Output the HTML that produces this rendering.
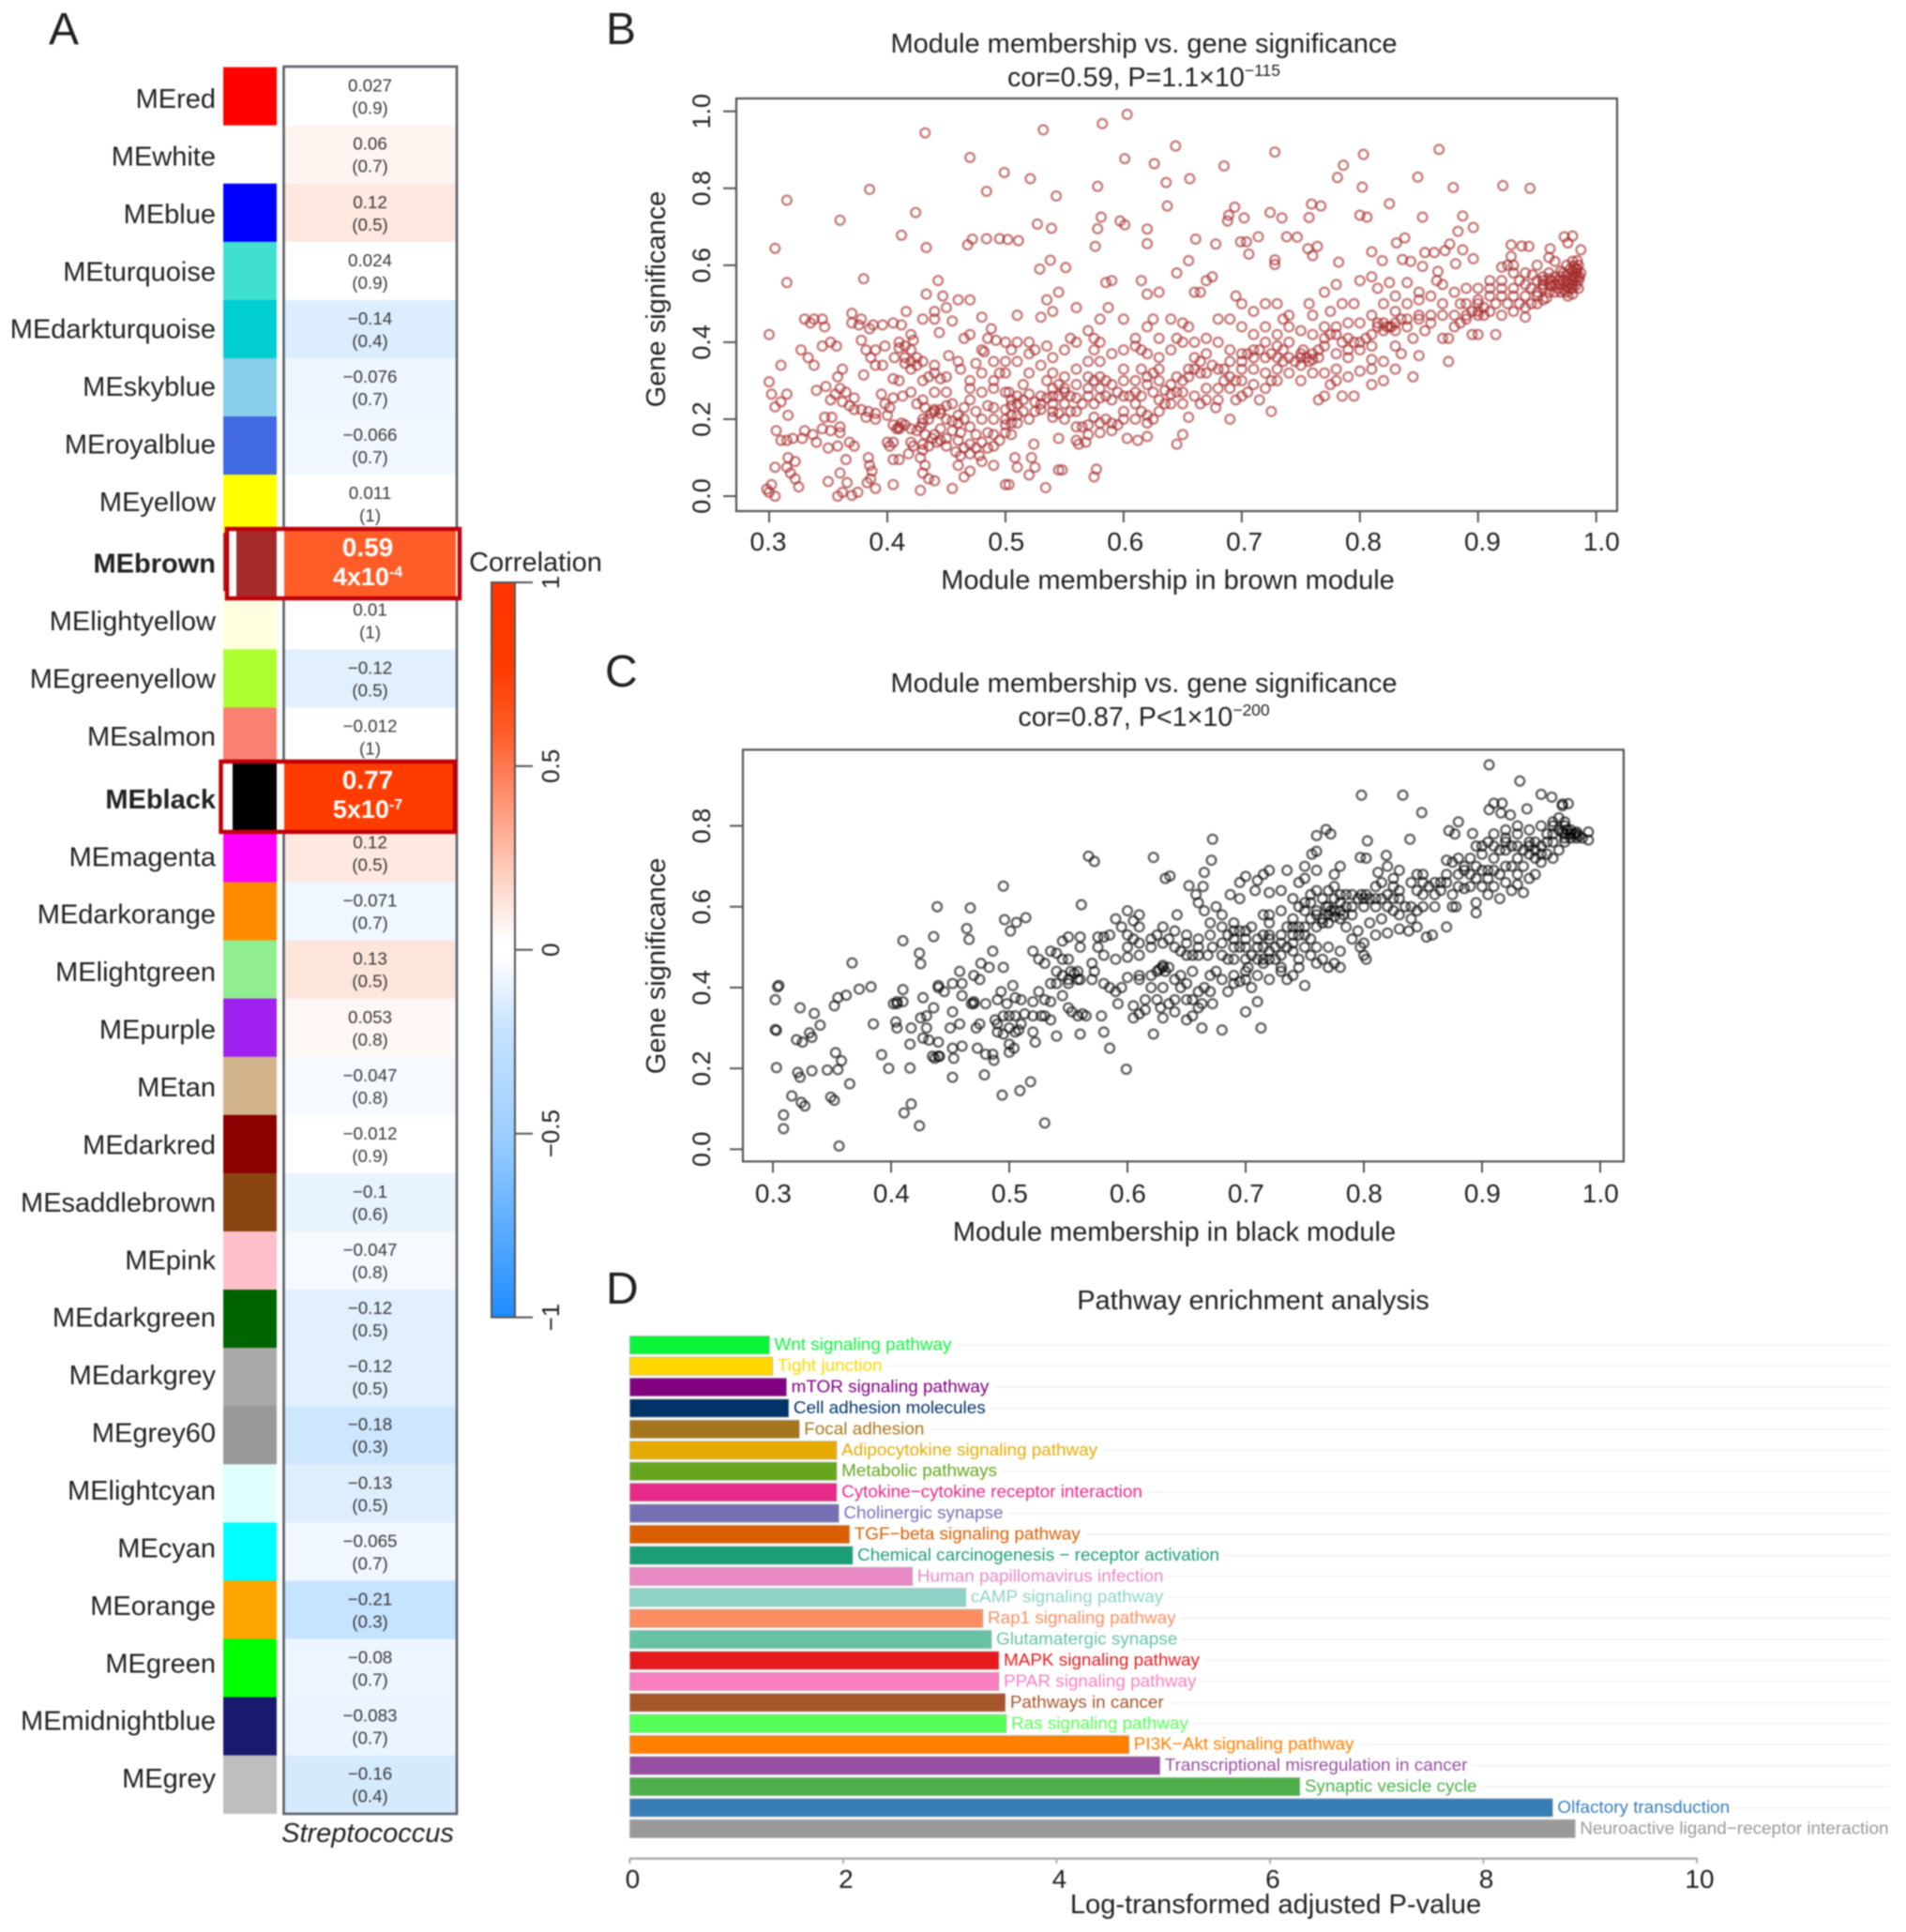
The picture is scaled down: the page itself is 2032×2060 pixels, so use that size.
<!DOCTYPE html>
<html lang="en">
<head>
<meta charset="utf-8">
<title>Module-trait correlation, module membership and pathway enrichment</title>
<style>
html,body{margin:0;padding:0;background:#fff;}
svg{display:block;filter:blur(.7px);font-family:"Liberation Sans",Arial,sans-serif;}
text{fill:#222;}
</style>
</head>
<body>
<svg id="figure" xmlns="http://www.w3.org/2000/svg" width="2032" height="2060" viewBox="0 0 2032 2060">
  <defs><linearGradient id="corrGradient" x1="0" y1="1" x2="0" y2="0"></linearGradient></defs>
  <rect x="0" y="0" width="2032" height="2060" fill="#fff"/>

  <text x="52" y="47" font-size="48">A</text>
  <text x="646" y="47" font-size="48">B</text>
  <text x="645" y="732" font-size="48">C</text>
  <text x="646" y="1390" font-size="48">D</text>

  <g id="panelA"></g>
  <text x="392" y="1964" font-size="29" font-style="italic" text-anchor="middle">Streptococcus</text>
  <text x="571" y="609" font-size="29" text-anchor="middle">Correlation</text>

  <text x="1219.5" y="56" font-size="29" text-anchor="middle">Module membership vs. gene significance</text>
  <text x="1219.5" y="92" font-size="28.7" text-anchor="middle">cor=0.59, P=1.1×10<tspan dy="-11" font-size="17.5">−115</tspan></text>
  <text x="1245" y="628" font-size="29" text-anchor="middle">Module membership in brown module</text>
  <text x="709" y="319" font-size="29" text-anchor="middle" transform="rotate(-90 709 319)">Gene significance</text>
  <g id="panelB"></g>

  <text x="1219.5" y="738" font-size="29" text-anchor="middle">Module membership vs. gene significance</text>
  <text x="1219.5" y="774" font-size="28.7" text-anchor="middle">cor=0.87, P&lt;1×10<tspan dy="-11" font-size="17.5">−200</tspan></text>
  <text x="1252" y="1323" font-size="29" text-anchor="middle">Module membership in black module</text>
  <text x="709" y="1030" font-size="29" text-anchor="middle" transform="rotate(-90 709 1030)">Gene significance</text>
  <g id="panelC"></g>

  <text x="1336" y="1396" font-size="29" text-anchor="middle">Pathway enrichment analysis</text>
  <text x="1360" y="2040" font-size="29.1" text-anchor="middle">Log-transformed adjusted P-value</text>
  <g id="panelD"></g>
</svg>

<script>
const moduleNames = ["MEred","MEwhite","MEblue","MEturquoise","MEdarkturquoise","MEskyblue","MEroyalblue","MEyellow","MEbrown","MElightyellow","MEgreenyellow","MEsalmon","MEblack","MEmagenta","MEdarkorange","MElightgreen","MEpurple","MEtan","MEdarkred","MEsaddlebrown","MEpink","MEdarkgreen","MEdarkgrey","MEgrey60","MElightcyan","MEcyan","MEorange","MEgreen","MEmidnightblue","MEgrey"];
const moduleColors = ["#ff0000","#ffffff","#0000ff","#40e0d0","#00ced1","#87ceeb","#4169e1","#ffff00","#a52a2a","#ffffe0","#adff2f","#fa8072","#000000","#ff00ff","#ff8c00","#90ee90","#a020f0","#d2b48c","#8b0000","#8b4513","#ffc0cb","#006400","#a9a9a9","#999999","#e0ffff","#00ffff","#ffa500","#00ff00","#191970","#bebebe"];
const correlations = [0.027,0.06,0.12,0.024,-0.14,-0.076,-0.066,0.011,0.59,0.01,-0.12,-0.012,0.77,0.12,-0.071,0.13,0.053,-0.047,-0.012,-0.1,-0.047,-0.12,-0.12,-0.18,-0.13,-0.065,-0.21,-0.08,-0.083,-0.16];
const pValues = ["0.9","0.7","0.5","0.9","0.4","0.7","0.7","1","4x10^-4","1","0.5","1","5x10^-7","0.5","0.7","0.5","0.8","0.8","0.9","0.6","0.8","0.5","0.5","0.3","0.5","0.7","0.3","0.7","0.7","0.4"];
const colorbarTicks = [1,0.5,0,-0.5,-1];
const scaleValues = [-1,-0.5,-0.21,-0.14,-0.076,-0.047,-0.012,0.03,0.06,0.12,0.5,0.59,0.77,1];
const scaleColors = ["#1e8cff","#9ccfff","#c6e3ff","#dcedfd","#eef6ff","#f6f9ff","#ffffff","#ffffff","#fef5f1","#fee8df","#ff7850","#ff5c28","#ff3c00","#ff3300"];

const pathwayNames = ["Wnt signaling pathway","Tight junction","mTOR signaling pathway","Cell adhesion molecules","Focal adhesion","Adipocytokine signaling pathway","Metabolic pathways","Cytokine−cytokine receptor interaction","Cholinergic synapse","TGF−beta signaling pathway","Chemical carcinogenesis − receptor activation","Human papillomavirus infection","cAMP signaling pathway","Rap1 signaling pathway","Glutamatergic synapse","MAPK signaling pathway","PPAR signaling pathway","Pathways in cancer","Ras signaling pathway","PI3K−Akt signaling pathway","Transcriptional misregulation in cancer","Synaptic vesicle cycle","Olfactory transduction","Neuroactive ligand−receptor interaction"];
const pathwayValues = [1.31,1.34,1.47,1.49,1.59,1.94,1.94,1.94,1.96,2.06,2.09,2.65,3.15,3.31,3.39,3.46,3.46,3.52,3.53,4.68,4.97,6.28,8.65,8.86];
const pathwayColors = ["#0af53a","#ffd700","#800080","#003366","#a6761d","#e6ab02","#66a61e","#e7298a","#7570b3","#d95f02","#1b9e77","#e78ac3","#8dd3c7","#fc8d62","#66c2a5","#e41a1c","#f97fbf","#a65628","#55ff55","#ff7f00","#984ea3","#4daf4a","#377eb8","#999999"];
const pathwayTicks = [0,2,4,6,8,10];

const scatterXTicks = [0.3,0.4,0.5,0.6,0.7,0.8,0.9,1.0];
const brownYTicks = [0,0.2,0.4,0.6,0.8,1.0];
const blackYTicks = [0,0.2,0.4,0.6,0.8];

const brownPoints = [[.432,.944],[.532,.952],[.582,.968],[.603,.992],[.644,.91],[.728,.894],[.867,.901],[.803,.888],[.47,.88],[.601,.877],[.626,.864],[.685,.858],[.786,.86],[.499,.841],[.849,.829],[.521,.825],[.656,.825],[.636,.815],[.781,.828],[.802,.803],[.879,.802],[.921,.807],[.944,.8],[.578,.805],[.385,.797],[.484,.792],[.543,.78],[.315,.769],[.637,.754],[.825,.76],[.759,.759],[.767,.754],[.694,.751],[.724,.737],[.689,.73],[.424,.737],[.887,.728],[.853,.725],[.8,.73],[.806,.725],[.734,.723],[.702,.723],[.581,.725],[.36,.717],[.597,.715],[.527,.707],[.601,.705],[.757,.724],[.688,.715],[.62,.694],[.578,.695],[.539,.696],[.896,.698],[.883,.688],[.412,.678],[.472,.668],[.484,.669],[.495,.669],[.502,.667],[.511,.664],[.468,.653],[.661,.668],[.714,.674],[.738,.674],[.747,.673],[.699,.661],[.704,.661],[.678,.655],[.62,.656],[.576,.649],[.764,.649],[.756,.643],[.76,.625],[.706,.629],[.305,.644],[.433,.646],[.831,.658],[.838,.671],[.876,.655],[.973,.674],[.98,.676],[.976,.658],[.987,.64],[.961,.643],[.928,.653],[.937,.65],[.943,.649],[.81,.635],[.855,.633],[.863,.633],[.872,.638],[.887,.64],[.728,.614],[.728,.602],[.538,.613],[.655,.612],[.782,.608],[.819,.612],[.836,.615],[.843,.61],[.896,.617],[.928,.623],[.529,.59],[.551,.594],[.853,.597],[.866,.584],[.881,.604],
[.30,.42],[.3,.297],[.302,.265],[.305,.232],[.306,.17],[.31,.145],[.315,.145],[.32,.15],[.328,.15],[.33,.17],[.337,.16],[.34,.14],[.305,.075],[.302,.03],[.298,.018],[.3,.01],[.305,.0],[.316,.1],[.322,.09],[.315,.075],[.318,.06],[.322,.045],[.325,.024],[.315,.265],[.31,.245],[.316,.21],[.31,.34],[.327,.38],[.333,.36],[.338,.34],[.345,.39],[.352,.4],[.357,.39],[.33,.46],[.345,.46],[.347,.44],[.37,.475],[.378,.46],[.385,.435],[.34,.275],[.348,.285],[.358,.31],[.362,.33],[.347,.205],[.353,.205],[.36,.18],[.35,.125],[.358,.13],[.35,.038],[.358,.0],[.36,.06],[.383,.035],[.315,.555],[.38,.565],
[.352,.25],[.356,.265],[.36,.28],[.365,.27],[.362,.245],[.368,.235],[.372,.225],[.378,.225],[.384,.22],[.39,.215],[.382,.205],[.372,.255],[.38,.315],[.378,.405],[.382,.38],[.386,.36],[.39,.34],[.396,.34],[.398,.39],[.376,.445],[.388,.445],[.396,.445],[.405,.45],[.412,.445],[.416,.48],[.384,.1],[.385,.08],[.387,.065],[.386,.045],[.39,.02],[.405,.03],[.366,.035],[.362,.01],[.37,.002],[.375,.01],[.372,.13],[.368,.14],[.365,.095],[.345,.175],[.352,.17],[.36,.165],[.405,.14],[.41,.18],[.415,.185],[.408,.175],[.405,.095],[.41,.095],[.398,.24],[.402,.23],[.395,.265],[.405,.255],[.41,.3],[.405,.305],[.413,.26],[.406,.36],[.415,.345],[.42,.35],[.425,.34],[.42,.38],[.41,.385],[.415,.39],[.422,.405],[.425,.36],[.43,.35],[.43,.46],[.44,.46],[.444,.425],[.443,.56],[.433,.525],[.447,.52],[.44,.48],[.455,.455],[.43,.3],[.435,.31],[.44,.32],[.445,.305],[.452,.365],[.44,.27],[.43,.25],[.425,.24],[.432,.23],[.437,.215],[.44,.22],[.445,.225],[.45,.2],[.43,.2],[.428,.18],[.42,.175],[.432,.16],[.438,.15],[.43,.135],[.422,.13],[.418,.11],[.428,.1],[.432,.08],[.43,.06],[.435,.045],[.44,.04],[.428,.015],[.455,.02],[.46,.08],[.47,.065],[.465,.05],[.442,.14],[.45,.13],[.455,.17],[.46,.145],[.465,.125],[.47,.11],[.48,.09],[.49,.08],[.48,.14],[.485,.125],[.49,.13],[.495,.145],[.5,.165],[.505,.19],[.5,.03],[.503,.03],[.51,.075],[.508,.1],[.52,.055],[.522,.1],[.525,.075],[.524,.135],[.534,.022],[.545,.068],[.548,.068],[.545,.15],[.56,.145],[.562,.135],[.568,.14],[.575,.05],[.577,.07],[.46,.21],[.465,.23],[.47,.25],[.455,.24],[.45,.235],[.475,.22],[.485,.235],[.49,.28],[.48,.27],[.49,.3],[.5,.27],[.5,.32],[.505,.25],[.51,.24],[.515,.29],[.52,.32],[.505,.21],[.515,.22],[.525,.245],[.53,.225],[.535,.3],[.54,.28],[.545,.26],[.55,.24],[.545,.215],[.54,.205],[.555,.22],[.56,.255],[.56,.29],[.57,.26],[.575,.24],[.58,.255],[.565,.18],[.57,.185],[.575,.205],[.58,.165],[.585,.2],[.59,.19],[.595,.185],[.6,.22],[.605,.26],[.61,.27],[.615,.22],[.62,.21],[.625,.2],[.603,.15],[.612,.145],[.62,.155],[.645,.135],[.65,.16],[.655,.205],[.665,.24],[.678,.23],[.69,.2],[.65,.27],[.64,.265],[.635,.275],[.63,.25],[.63,.3],[.62,.31],[.615,.33],[.61,.3],[.59,.29],[.585,.3],[.58,.31],[.57,.35],[.575,.38],[.56,.4],[.555,.41],[.55,.38],[.54,.36],[.535,.39],[.525,.38],[.52,.4],[.51,.4],[.505,.38],[.5,.35],[.495,.32],[.485,.41],[.48,.38],[.47,.42],[.465,.41],[.46,.35],[.462,.33],[.45,.49],[.46,.51],[.47,.51],[.48,.465],[.488,.435],[.492,.405],[.482,.375],[.475,.345],[.51,.47],[.53,.465],[.535,.51],[.54,.48],[.545,.53],[.56,.49],[.57,.43],[.575,.41],[.58,.46],[.587,.49],[.58,.4],[.6,.46],[.61,.41],[.615,.38],[.62,.44],[.625,.46],[.63,.36],[.64,.38],[.645,.41],[.65,.45],[.655,.44],[.66,.4],[.67,.37],[.675,.34],[.665,.32],[.655,.33],[.645,.31],[.685,.33],[.69,.35],[.7,.37],[.71,.38],[.72,.4],[.73,.39],[.74,.4],[.75,.37],[.755,.36],[.76,.37],[.76,.42],[.765,.36],[.75,.34],[.745,.35],[.735,.35],[.73,.33],[.725,.3],[.72,.32],[.71,.33],[.7,.3],[.695,.25],[.705,.27],[.715,.25],[.725,.22],[.69,.28],[.68,.25],[.67,.28],[.765,.25],[.77,.26],[.775,.29],[.785,.26],[.795,.26],[.81,.29],[.82,.3],[.78,.33],[.79,.36],[.8,.325],[.81,.355],[.8,.4],[.79,.41],[.78,.44],[.77,.44],[.775,.48],[.81,.42],[.815,.44],[.82,.45],[.825,.44],[.83,.43],[.835,.46],[.84,.44],[.845,.31],[.85,.365],[.875,.35],[.83,.39],[.835,.37],[.845,.41],[.855,.43],[.86,.45],[.87,.47],[.875,.41],[.885,.45],[.89,.46],[.895,.42],[.9,.42],[.9,.48],[.905,.49],[.915,.42],[.92,.47],[.93,.48],[.94,.465],[.94,.49],[.95,.5],[.955,.51],[.96,.53],[.93,.52],[.92,.52],[.91,.52],[.9,.51],[.89,.5],[.885,.5],[.88,.53],[.87,.55],[.865,.56],[.85,.53],[.85,.51],[.84,.555],[.83,.52],[.825,.555],[.815,.54],[.81,.57],[.8,.56],[.795,.5],[.785,.5],[.77,.53],[.78,.55],[.71,.48],[.72,.5],[.7,.5],[.695,.52],[.68,.46],[.665,.53],[.66,.53],[.645,.58],[.63,.53],[.62,.525],[.615,.56],[.59,.56],[.585,.555],[.67,.56],[.675,.57],[.69,.46],[.73,.5],[.735,.46],[.74,.44],[.757,.5],
[.955,.54],[.96,.55],[.962,.56],[.965,.53],[.968,.54],[.97,.55],[.972,.56],[.975,.545],[.978,.54],[.98,.56],[.982,.57],[.984,.59],[.985,.6],[.983,.58],[.98,.585],[.975,.575],[.97,.53],[.985,.56],[.985,.54],[.98,.525],[.987,.58],[.96,.58],[.955,.57],[.95,.56],[.945,.54],[.94,.55],[.935,.56],[.93,.58],[.925,.6],[.92,.595],[.975,.6],[.965,.61],[.96,.62],[.98,.61],[.97,.585],[.958,.515],[.95,.53],[.946,.575],[.962,.545],[.973,.535],[.977,.553],[.983,.548],[.986,.57],[.981,.598],[.984,.612],
[.41,.175],[.412,.19],[.405,.185],[.4,.14],[.402,.13],[.44,.225],[.445,.215],[.435,.2],[.43,.19],[.425,.17],[.435,.13],[.44,.16],[.445,.145],[.43,.12],[.42,.14],[.445,.175],[.45,.15],[.455,.195],[.46,.19],[.462,.165],[.465,.2],[.47,.18],[.475,.16],[.475,.125],[.458,.115],[.462,.105],[.47,.135],[.478,.105],[.485,.165],[.49,.16],[.5,.2],[.5,.185],[.505,.16],[.5,.225],[.505,.235],[.51,.21],[.515,.25],[.503,.27],[.51,.26],[.52,.265],[.525,.22],[.53,.24],[.535,.255],[.54,.24],[.54,.26],[.545,.29],[.55,.27],[.55,.28],[.555,.26],[.56,.22],[.565,.24],[.57,.28],[.575,.3],[.58,.28],[.585,.26],[.59,.25],[.595,.27],[.6,.3],[.6,.26],[.61,.24],[.615,.26],[.62,.29],[.625,.27],[.625,.32],[.63,.33],[.635,.24],[.64,.29],[.645,.27],[.65,.3],[.655,.31],[.66,.33],[.665,.35],[.67,.32],[.68,.33],[.685,.3],[.695,.3],[.7,.33],[.7,.35],[.705,.37],[.71,.36],[.715,.38],[.72,.36],[.725,.37],[.73,.36],[.735,.38],[.74,.36],[.75,.36],[.752,.38],[.757,.35],[.76,.355],[.765,.38],[.77,.41],[.775,.42],[.78,.42],[.785,.4],[.79,.38],[.795,.4],[.8,.38],[.805,.41],[.81,.39],[.815,.45],[.82,.43],[.823,.44],[.827,.44],[.83,.45],[.84,.46],[.85,.46],[.86,.47],[.87,.41],[.88,.44],[.89,.47],[.895,.48],[.9,.47],[.9,.5],[.905,.47],[.91,.48],[.915,.5],[.925,.5],[.935,.5],[.94,.52],[.945,.5],[.95,.52],[.955,.55],[.93,.54],[.92,.56],[.91,.54],[.98,.55],[.975,.56],[.97,.57],[.965,.57],[.96,.565],[.955,.56],[.965,.55],[.975,.53],[.98,.57],[.983,.59],[.984,.57],[.978,.59],[.972,.58],[.968,.56],[.98,.54],[.976,.52],[.335,.45],[.338,.46],[.37,.45],[.39,.38],[.41,.4],[.415,.36],[.42,.33],[.42,.42],[.44,.34],[.45,.31],[.47,.3],[.48,.32],[.49,.35],[.5,.4],[.51,.35],[.52,.37],[.53,.34],[.54,.32],[.55,.31],[.56,.33],[.57,.31],[.58,.35],[.59,.37],[.6,.38],[.61,.39],[.62,.37],[.63,.41],[.64,.46],[.65,.4],[.66,.36],[.67,.41],[.68,.4],[.69,.38],[.7,.44],[.71,.42],[.72,.44],[.73,.42],[.74,.47],[.75,.43],[.76,.47],[.77,.39],[.78,.37],[.79,.45],[.8,.45],[.81,.47],[.82,.5],[.83,.48],[.84,.5],[.85,.47],[.86,.52],[.87,.5],[.88,.47],[.89,.54],[.9,.54],[.91,.56],[.92,.54],[.93,.6],[.94,.58],[.95,.6],[.4,.21],[.39,.2],[.42,.27],[.45,.27],[.47,.28],[.48,.2],[.49,.2],[.49,.23],[.51,.19],[.52,.2],[.53,.26],[.54,.22],[.55,.2],[.56,.18],[.57,.16],[.58,.19],[.59,.17],[.6,.2],[.6,.33],[.61,.2],[.62,.19],[.63,.22],[.64,.24],[.65,.24],[.66,.26],[.67,.25],[.68,.28],[.69,.31],[.7,.26],[.71,.29],[.72,.28],[.73,.3],[.74,.32],[.75,.3],[.76,.32],[.77,.32],[.78,.3],[.79,.31],[.81,.33],[.82,.35],[.83,.33]];

const blackPoints = [[.906,.951],[.932,.911],[.798,.876],[.833,.876],[.95,.878],[.959,.871],[.968,.854],[.849,.833],[.906,.84],[.91,.856],[.917,.856],[.916,.832],[.938,.842],[.924,.827],[.88,.81],[.872,.788],[.877,.78],[.892,.781],[.76,.776],[.768,.791],[.772,.78],[.672,.767],[.803,.763],[.839,.767],[.567,.725],[.572,.712],[.622,.722],[.671,.715],[.797,.722],[.802,.72],[.819,.727],[.76,.737],[.756,.73],[.632,.67],[.636,.676],[.665,.685],[.652,.652],[.664,.65],[.495,.651],[.561,.605],[.439,.6],[.467,.597],[.514,.573],[.496,.568],[.506,.561],[.501,.54],[.464,.546],[.466,.519],[.41,.516],[.436,.526],[.424,.485],[.425,.459],[.367,.461],[.383,.402],[.373,.396],[.362,.381],[.355,.375],[.352,.355],[.304,.402],[.305,.405],[.302,.37],[.323,.35],[.335,.336],[.302,.296],[.303,.294],[.32,.271],[.331,.288],[.325,.265],[.333,.277],[.34,.307],[.303,.202],[.353,.239],[.358,.219],[.355,.197],[.346,.196],[.333,.194],[.321,.19],[.323,.178],[.365,.162],[.316,.132],[.349,.129],[.352,.121],[.324,.116],[.327,.107],[.309,.085],[.309,.051],[.356,.008],[.53,.065],[.424,.058],[.417,.112],[.411,.09],[.494,.134],[.509,.145],[.518,.167],[.479,.184],[.452,.178],[.599,.198],[.416,.201],[.398,.2],[.392,.234],
[.405,.36],[.41,.365],[.402,.36],[.41,.395],[.404,.315],[.405,.3],[.385,.31],[.416,.26],[.417,.3],[.425,.325],[.43,.3],[.43,.33],[.427,.275],[.432,.27],[.435,.23],[.44,.265],[.441,.23],[.437,.225],[.427,.375],[.436,.35],[.44,.4],[.445,.39],[.45,.3],[.452,.34],[.452,.25],[.453,.225],[.458,.31],[.46,.255],[.452,.41],[.458,.44],[.46,.41],[.47,.43],[.475,.42],[.47,.365],[.468,.36],[.475,.31],[.472,.3],[.473,.25],[.48,.235],[.487,.22],[.486,.235],[.488,.32],[.49,.37],[.49,.29],[.493,.39],[.495,.285],[.498,.36],[.5,.33],[.5,.26],[.5,.24],[.504,.25],[.503,.405],[.505,.375],[.505,.33],[.508,.295],[.51,.37],[.513,.335],[.52,.29],[.522,.265],[.52,.365],[.527,.33],[.53,.33],[.535,.32],[.54,.28],[.525,.39],[.535,.365],[.535,.41],[.54,.41],[.545,.38],[.55,.35],[.553,.34],[.558,.33],[.562,.335],[.565,.33],[.56,.285],[.578,.33],[.58,.29],[.585,.25],[.545,.43],[.55,.47],[.555,.435],[.558,.44],[.56,.5],[.545,.515],[.56,.525],[.55,.525],[.476,.46],[.483,.45],[.486,.49],[.495,.45],[.52,.49],[.525,.47],[.53,.46],[.535,.49],[.54,.485],[.545,.47],[.57,.46],[.572,.44],[.575,.525],[.58,.41],[.585,.4],[.59,.39],[.592,.36],[.595,.4],[.6,.475],[.6,.425],[.605,.355],[.605,.325],[.61,.335],[.615,.345],[.615,.37],[.61,.43],[.62,.43],[.625,.44],[.63,.45],[.635,.45],[.64,.42],[.645,.43],[.63,.4],[.625,.37],[.628,.35],[.63,.325],[.635,.36],[.64,.34],[.65,.32],[.655,.33],[.655,.37],[.66,.39],[.663,.36],[.672,.36],[.663,.3],[.622,.285],[.68,.295],[.713,.3],[.70,.34],[.705,.4],[.71,.365],[.685,.39],[.69,.43],[.695,.415],[.7,.42],[.702,.45],[.67,.43],[.665,.4],[.675,.44],[.68,.48],[.685,.47],[.69,.5],[.695,.54],[.7,.52],[.705,.48],[.71,.47],[.715,.46],[.72,.49],[.725,.5],[.73,.45],[.735,.42],[.74,.43],[.745,.45],[.75,.405],[.755,.48],[.76,.5],[.765,.47],[.77,.45],[.78,.45],[.775,.46],[.745,.47],[.735,.5],[.73,.51],[.74,.53],[.75,.55],[.755,.52],[.76,.55],[.76,.59],[.765,.56],[.77,.58],[.775,.575],[.78,.57],[.77,.6],[.765,.62],[.775,.62],[.785,.6],[.79,.63],[.78,.63],[.775,.65],[.785,.55],[.79,.58],[.795,.54],[.8,.51],[.8,.48],[.802,.47],[.797,.5],[.81,.53],[.82,.535],[.815,.57],[.82,.6],[.825,.59],[.83,.58],[.83,.545],[.838,.54],[.845,.55],[.84,.57],[.83,.62],[.825,.65],[.815,.66],[.81,.65],[.805,.62],[.8,.62],[.798,.63],[.812,.685],[.82,.7],[.825,.67],[.83,.69],[.845,.68],[.85,.68],[.845,.64],[.85,.6],[.855,.65],[.86,.6],[.853,.525],[.858,.53],[.87,.55],[.875,.6],[.878,.6],[.865,.64],[.87,.68],[.88,.65],[.885,.645],[.87,.715],[.875,.71],[.89,.68],[.895,.7],[.9,.69],[.905,.67],[.91,.65],[.895,.585],[.895,.61],[.905,.63],[.915,.62],[.925,.64],[.935,.635],[.93,.655],[.94,.67],[.945,.68],[.95,.71],[.955,.73],[.96,.72],[.95,.75],[.94,.76],[.93,.75],[.92,.74],[.91,.72],[.905,.76],[.9,.73],[.91,.78],[.92,.79],[.93,.78],[.94,.79],[.95,.8],[.96,.8],[.97,.81],[.975,.79],[.98,.785],[.97,.76],[.985,.77],[.99,.765],[.99,.785],[.982,.775],[.978,.78],[.972,.79],[.968,.785],[.96,.76],[.965,.74],[.945,.74],[.955,.76],[.935,.7],[.925,.7],[.92,.7],[.93,.72],[.915,.68],[.92,.66],
[.59,.57],[.595,.55],[.6,.59],[.605,.565],[.61,.58],[.61,.55],[.605,.52],[.6,.5],[.61,.51],[.62,.5],[.625,.53],[.63,.55],[.635,.52],[.64,.5],[.645,.49],[.65,.48],[.655,.48],[.65,.53],[.66,.52],[.642,.58],[.665,.59],[.67,.56],[.68,.58],[.69,.54],[.675,.6],[.658,.63],[.66,.61],[.687,.63],[.695,.62],[.7,.675],[.695,.66],[.708,.64],[.71,.665],[.72,.69],[.715,.68],[.735,.69],[.72,.58],[.715,.58],[.72,.635],[.73,.64],[.74,.62],[.745,.66],[.75,.67],[.75,.7],[.755,.61],[.73,.59],[.72,.56],[.715,.53],[.705,.55],[.745,.55],[.74,.57],[.75,.59],[.76,.69],[.78,.7],[.775,.68],[.585,.53],[.58,.525],[.575,.5],
[.765,.57],[.77,.56],[.772,.59],[.768,.6],[.775,.59],[.78,.59],[.783,.58],[.76,.58],[.755,.57],[.75,.53],[.745,.53],[.74,.51],[.73,.53],[.72,.53],[.715,.5],[.71,.5],[.7,.5],[.695,.5],[.69,.52],[.685,.53],[.68,.51],[.672,.5],[.668,.48],[.66,.48],[.655,.44],[.65,.41],[.645,.4],[.63,.455],[.627,.445],[.632,.44],[.69,.47],[.7,.47],[.715,.47],[.72,.47],[.725,.47],[.73,.48],[.735,.55],[.74,.55],[.745,.6],[.75,.61],[.755,.63],[.76,.64],[.77,.64],[.78,.61],[.785,.63],[.79,.6],[.795,.62],[.8,.6],[.802,.63],[.81,.6],[.815,.62],[.82,.63],[.825,.62],[.83,.64],[.835,.6],[.84,.6],[.845,.59],[.85,.63],[.86,.63],[.865,.66],[.875,.63],[.88,.68],[.885,.69],[.89,.65],[.895,.67],[.9,.65],[.905,.69],[.91,.69],[.915,.74],[.92,.76],[.925,.75],[.93,.68],[.935,.74],[.94,.73],[.94,.75],[.945,.76],[.945,.72],[.95,.73],[.955,.78],[.96,.78],[.965,.79],[.97,.77],[.97,.78],[.975,.78],[.975,.77],[.98,.77],[.98,.78],[.973,.855],[.968,.85],[.96,.81],[.965,.82],[.97,.8],[.93,.8],[.92,.77],[.91,.75],[.9,.75],[.895,.75],[.89,.72],[.885,.7],[.88,.72],[.87,.66],[.86,.66],[.85,.66],[.84,.66],[.81,.62],[.805,.56],[.79,.52],[.78,.49],[.77,.5],[.76,.46],[.75,.5],[.74,.49],[.73,.44],[.72,.52],[.71,.52],[.7,.54],[.69,.56],[.68,.55],[.67,.53],[.66,.5],[.65,.51],[.64,.54],[.63,.51],[.62,.52],[.61,.48],[.6,.53],[.59,.47],[.58,.48],[.57,.42],[.56,.42],[.55,.42],[.54,.44],[.53,.37],[.52,.33],[.51,.31],[.505,.29],[.5,.3],[.495,.33],[.49,.31],[.48,.36],[.47,.36],[.46,.38],[.55,.41],[.552,.44],[.558,.42],[.61,.42],[.62,.4],[.64,.37],[.65,.37],[.66,.35],[.67,.39],[.68,.42],[.69,.41],[.7,.44],[.71,.43],[.72,.42],[.44,.23],[.405,.365],[.44,.405]];

const NS = "http://www.w3.org/2000/svg";
function make(parent, tag, attrs, txt) {
  const el = document.createElementNS(NS, tag);
  for (const k in attrs) el.setAttribute(k, attrs[k]);
  if (txt !== undefined) el.textContent = txt;
  parent.appendChild(el);
  return el;
}
function hexRgb(h){return [parseInt(h.slice(1,3),16),parseInt(h.slice(3,5),16),parseInt(h.slice(5,7),16)];}
function corrColor(v){
  let i = 0;
  while (i < scaleValues.length-2 && v > scaleValues[i+1]) i++;
  const t = Math.max(0,Math.min(1,(v-scaleValues[i])/(scaleValues[i+1]-scaleValues[i])));
  const a = hexRgb(scaleColors[i]), b = hexRgb(scaleColors[i+1]);
  return "rgb("+a.map((c,j)=>Math.round(c+(b[j]-c)*t)).join(",")+")";
}
function signed(v){return String(v).replace("-","−");}

/* ---------- Panel A ---------- */
const gA = document.getElementById("panelA");
const rowTop = 71.6, rowH = 62.07, cellL = 303, cellR = 486;
const rowY = i => rowTop + i*rowH;
const labelY = i => 105 + 61.43*i + (i>=8?4.2:0) + (i>=12?5.5:0);

moduleNames.forEach((name,i)=>{
  const hi = pValues[i].includes("^");
  const fill = make(gA,"rect",{x:cellL,y:rowY(i),width:cellR-cellL,height:rowH+.3,fill:corrColor(correlations[i])});
  
  
  const sw = make(gA,"rect",{x:238,y:rowY(i),width:57,height:rowH+.3,fill:moduleColors[i]});
  
  
  const lab = make(gA,"text",{x:230,y:labelY(i)+10,"font-size":29,"text-anchor":"end","font-weight":hi?"bold":"normal"},name);
  
  
});

const frame = make(gA,"rect",{x:302.5,y:71,width:184.5,height:1863,fill:"none",stroke:"#5a6068","stroke-width":2.6});



moduleNames.forEach((name,i)=>{
  const cy = rowY(i)+rowH/2;
  if (pValues[i].includes("^")) {
    const black = name === "MEblack";
    const top = black ? 810 : 562, h = black ? 79 : 78;
    const left = black ? 233.5 : 240, width = black ? 253.5 : 252;
    const whiteBg = make(gA,"rect",{x:left,y:top,width:width,height:h,fill:"#fff"});
    
    
    const swX = black ? 248 : 252;
    const sw2 = make(gA,"rect",{x:swX,y:top+4,width:295-swX,height:h-8,fill:moduleColors[i]});
    
    
    const c2 = make(gA,"rect",{x:303,y:top+4,width:183,height:h-8,fill:corrColor(correlations[i])});
    
    
    const box = make(gA,"rect",{x:left+2,y:top+2,width:width-4,height:h-4,fill:"none",stroke:"#c00008","stroke-width":4.5});
    
    
    const v = make(gA,"text",{x:392,y:top+31,"font-size":28,"font-weight":"bold","text-anchor":"middle",style:"fill:#fff"},signed(correlations[i]));
    
    
    const parts = pValues[i].split("^");
    const p = make(gA,"text",{x:392,y:top+62,"font-size":27,"font-weight":"bold","text-anchor":"middle",style:"fill:#fff"},parts[0]);
    
    
    make(p,"tspan",{dy:-9,"font-size":16},parts[1]);
  } else {
    const v = make(gA,"text",{x:394.5,y:cy-5,"font-size":18.8,"text-anchor":"middle",style:"fill:#3a3a3a"},signed(correlations[i]));
    
    
    const p = make(gA,"text",{x:394.5,y:cy+19,"font-size":18.8,"text-anchor":"middle",style:"fill:#3a3a3a"},"("+pValues[i]+")");
    
    
  }
});

/* colour bar */
const barTop = 621, barBottom = 1404.6, barL = 524, barR = 549;
const corrY = v => (barTop+barBottom)/2 - v*(barBottom-barTop)/2;
const grad = document.getElementById("corrGradient");
scaleValues.forEach((v,i)=>{
  make(grad,"stop",{offset:((v+1)/2*100)+"%","stop-color":scaleColors[i]});
});
const cbar = make(gA,"rect",{x:barL,y:barTop,width:barR-barL,height:barBottom-barTop,fill:"url(#corrGradient)",stroke:"#555","stroke-width":2});


colorbarTicks.forEach(t=>{
  const y = corrY(t);
  const tick = make(gA,"line",{x1:barR,x2:568,y1:y,y2:y,stroke:"#555","stroke-width":2});
  
  
  const lab = make(gA,"text",{x:596,y:y,"font-size":26,"text-anchor":"middle",transform:"rotate(-90 596 "+y+")"},signed(t));
  
  
});

/* ---------- Scatter plots ---------- */
function scatter(groupId, box, xScale, yScale, xTicks, yTicks, points, stroke, pointName, labelBaseline, labelShift){
  const g = document.getElementById(groupId);
  const sx = v => xScale.x0 + (v-xScale.v0)*xScale.k;
  const sy = v => yScale.y0 - v*yScale.k;
  points.forEach(p=>{
    const c = make(g,"circle",{cx:sx(p[0]),cy:sy(p[1]),r:4.9,fill:"none",stroke:stroke,"stroke-width":2.4});
    
    
  });
  const r = make(g,"rect",{x:box.l,y:box.t,width:box.r-box.l,height:box.b-box.t,fill:"none",stroke:"#555","stroke-width":2.2});
  
  
  xTicks.forEach(t=>{
    const x = sx(t);
    const tk = make(g,"line",{x1:x,x2:x,y1:box.b,y2:box.b+12,stroke:"#555","stroke-width":2});
    
    
    const lab = make(g,"text",{x:x+labelShift(t),y:labelBaseline,"font-size":28,"text-anchor":"middle"},t.toFixed(1));
    
    
  });
  yTicks.forEach(t=>{
    const y = sy(t);
    const tk = make(g,"line",{x1:box.l-14,x2:box.l,y1:y,y2:y,stroke:"#555","stroke-width":2});
    
    
    const lab = make(g,"text",{x:757,y:y,"font-size":27,"text-anchor":"middle",transform:"rotate(-90 757 "+y+")"},t.toFixed(1));
    
    
  });
}
scatter("panelB",{l:785,r:1724,t:105,b:545},{x0:820,v0:.3,k:1259.6},{y0:529,k:410.3},scatterXTicks,brownYTicks,brownPoints,"rgba(165,42,42,.6)","brown-module-gene-point",587,t=>-1+(t-.3)/.7*6.6);
scatter("panelC",{l:792,r:1731,t:799.4,b:1238.4},{x0:824,v0:.3,k:1260},{y0:1225.4,k:431},scatterXTicks,blackYTicks,blackPoints,"rgba(0,0,0,.6)","black-module-gene-point",1282,t=>.4);

/* ---------- Panel D ---------- */
const gD = document.getElementById("panelD");
const pathX = v => 671.4 + v*113.76;
const pathTop = 1424.5, pathStep = 22.42, pathH = 19.4;
pathwayNames.forEach((name,i)=>{
  const y = pathTop + i*pathStep;
  const x1 = pathX(pathwayValues[i]);
  const lab = make(gD,"text",{x:x1+5,y:y+pathH/2+5.5,"font-size":18.9,style:"fill:"+pathwayColors[i]},name);
  
  
  const end = x1 + 5 + lab.getComputedTextLength() + 5;
  if (end < 2015) {
    const guide = make(gD,"line",{x1:end,x2:2015,y1:y+pathH/2,y2:y+pathH/2,stroke:"#f1f1f1","stroke-width":1.5});
    
    
  }
  const bar = make(gD,"rect",{x:pathX(0),y:y,width:x1-pathX(0),height:pathH,fill:pathwayColors[i],stroke:"#bbb","stroke-width":.8});
  
  
});
const axisD = make(gD,"line",{x1:pathX(0),x2:pathX(10),y1:1981.7,y2:1981.7,stroke:"#aaa","stroke-width":2.4});


pathwayTicks.forEach(t=>{
  const x = pathX(t);
  const tk = make(gD,"line",{x1:x,x2:x,y1:1981,y2:1987,stroke:"#aaa","stroke-width":2});
  
  
  const lab = make(gD,"text",{x:x+3,y:2013,"font-size":28,"text-anchor":"middle"},String(t));
  
  
});
</script>
</body>
</html>
